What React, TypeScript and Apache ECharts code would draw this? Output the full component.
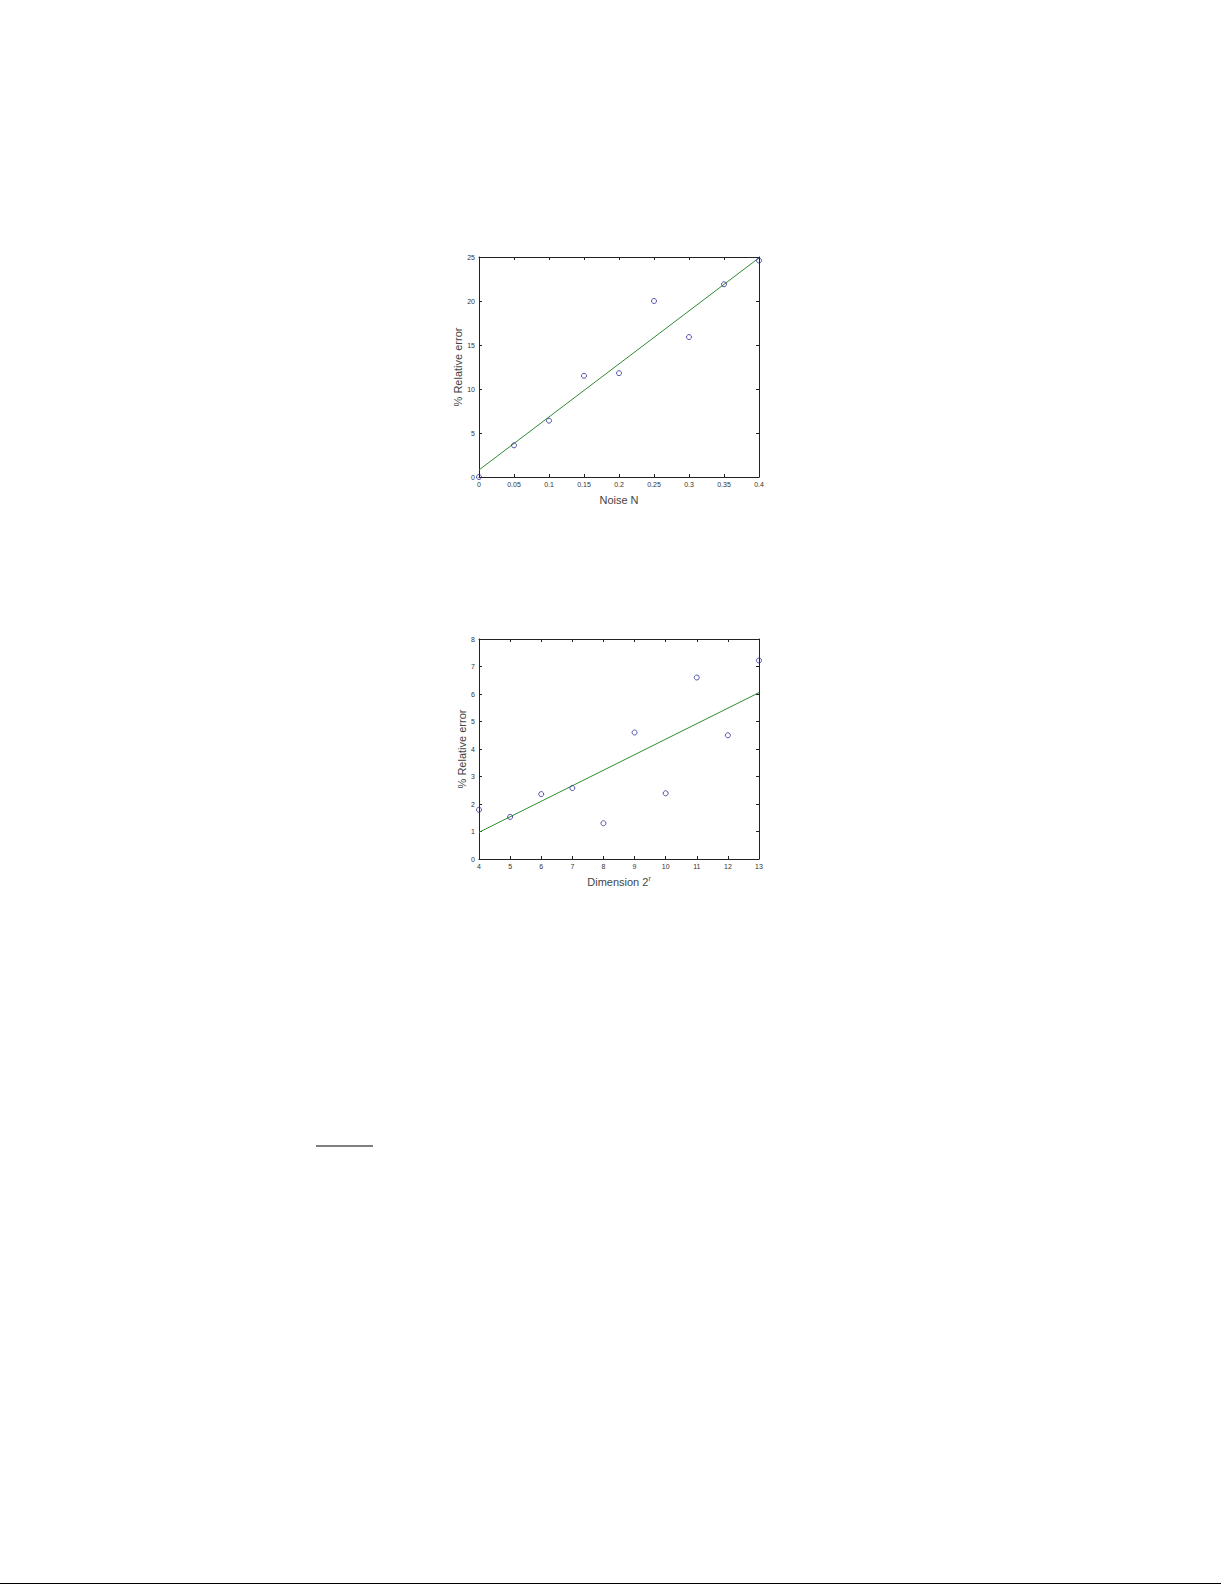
import React, { useEffect, useRef } from "react";
import * as echarts from "echarts";

// Chart 1: Noise N vs % Relative error
const noiseX = [0, 0.05, 0.1, 0.15, 0.2, 0.25, 0.3, 0.35, 0.4];
const noiseErr = [0, 3.6, 6.4, 11.5, 11.8, 20.0, 15.9, 21.9, 24.6];
const noiseFitX = [0, 0.4];
const noiseFitY = [0.8, 24.9];

// Chart 2: Dimension 2^r vs % Relative error
const dimX = [4, 5, 6, 7, 8, 9, 10, 11, 12, 13];
const dimErr = [1.79, 1.53, 2.36, 2.58, 1.3, 4.6, 2.39, 6.6, 4.5, 7.22];
const dimFitX = [4, 13];
const dimFitY = [0.97, 6.05];

const FONT = "Liberation Sans, Arial, sans-serif";
const AXIS_COLOR = "#222";
const MARKER_COLOR = "#2a2a9a";
const FIT_COLOR = "#2f8a2f";

function zip(a: number[], b: number[]) {
  return a.map((v, i) => [v, b[i]]);
}

function mainX(gridIndex: number, min: number, max: number, interval: number, name: any, nameGap: number) {
  return {
    type: "value",
    gridIndex,
    min,
    max,
    interval,
    position: "bottom",
    name,
    nameLocation: "middle",
    nameGap,
    nameTextStyle: { fontFamily: FONT, fontSize: 11, color: "#444", rich: { sup: { fontSize: 7, verticalAlign: "top", padding: [0, 0, 6, 0], fontFamily: FONT, color: "#444" } } },
    axisLine: { show: true, onZero: false, lineStyle: { color: AXIS_COLOR, width: 1 } },
    axisTick: { show: true, inside: true, length: 3, lineStyle: { color: AXIS_COLOR } },
    axisLabel: { fontFamily: FONT, fontSize: 7, color: "#333", margin: 4 },
    splitLine: { show: false },
  };
}

function frameX(gridIndex: number, min: number, max: number, interval: number) {
  return {
    type: "value",
    gridIndex,
    min,
    max,
    interval,
    position: "top",
    axisLine: { show: true, onZero: false, lineStyle: { color: AXIS_COLOR, width: 1 } },
    axisTick: { show: true, inside: true, length: 3, lineStyle: { color: AXIS_COLOR } },
    axisLabel: { show: false },
    splitLine: { show: false },
  };
}

function mainY(gridIndex: number, min: number, max: number, interval: number) {
  return {
    type: "value",
    gridIndex,
    min,
    max,
    interval,
    position: "left",
    name: "% Relative error",
    nameLocation: "middle",
    nameGap: 11,
    nameTextStyle: { fontFamily: FONT, fontSize: 11, color: "#444" },
    axisLine: { show: true, onZero: false, lineStyle: { color: AXIS_COLOR, width: 1 } },
    axisTick: { show: true, inside: true, length: 3, lineStyle: { color: AXIS_COLOR } },
    axisLabel: { fontFamily: FONT, fontSize: 7, color: "#333", margin: 4 },
    splitLine: { show: false },
  };
}

function frameY(gridIndex: number, min: number, max: number, interval: number) {
  return {
    type: "value",
    gridIndex,
    min,
    max,
    interval,
    position: "right",
    axisLine: { show: true, onZero: false, lineStyle: { color: AXIS_COLOR, width: 1 } },
    axisTick: { show: true, inside: true, length: 3, lineStyle: { color: AXIS_COLOR } },
    axisLabel: { show: false },
    splitLine: { show: false },
  };
}

function scatter(xi: number, yi: number, data: number[][]) {
  return {
    type: "scatter",
    xAxisIndex: xi,
    yAxisIndex: yi,
    data,
    symbol: "circle",
    symbolSize: 5,
    itemStyle: { color: "rgba(0,0,0,0)", borderColor: MARKER_COLOR, borderWidth: 1 },
    z: 3,
  };
}

function fit(xi: number, yi: number, data: number[][]) {
  return {
    type: "line",
    xAxisIndex: xi,
    yAxisIndex: yi,
    data,
    showSymbol: false,
    symbol: "none",
    lineStyle: { color: FIT_COLOR, width: 1 },
    z: 2,
  };
}

export default function App() {
  const ref = useRef<HTMLDivElement>(null);
  useEffect(() => {
    if (!ref.current) return;
    const chart = echarts.init(ref.current, undefined, { renderer: "svg" });
    chart.setOption({
      animation: false,
      backgroundColor: "#fff",
      grid: [
        { left: 479, top: 257, width: 280, height: 220 },
        { left: 479, top: 639, width: 280, height: 220 },
      ],
      xAxis: [
        mainX(0, 0, 0.4, 0.05, "Noise N", 17),
        frameX(0, 0, 0.4, 0.05),
        mainX(1, 4, 13, 1, "Dimension 2{sup|r}", 16),
        frameX(1, 4, 13, 1),
      ],
      yAxis: [
        mainY(0, 0, 25, 5),
        frameY(0, 0, 25, 5),
        mainY(1, 0, 8, 1),
        frameY(1, 0, 8, 1),
      ],
      series: [
        fit(0, 0, zip(noiseFitX, noiseFitY)),
        scatter(0, 0, zip(noiseX, noiseErr)),
        fit(2, 2, zip(dimFitX, dimFitY)),
        scatter(2, 2, zip(dimX, dimErr)),
      ],
      graphic: [
        { type: "line", shape: { x1: 316, y1: 1146, x2: 373, y2: 1146 }, style: { stroke: "#000", lineWidth: 1.2 } },
        { type: "line", shape: { x1: 0, y1: 1583.5, x2: 1221, y2: 1583.5 }, style: { stroke: "#000", lineWidth: 1.2 } },
      ],
    });
    return () => chart.dispose();
  }, []);
  return (
    <div
      ref={ref}
      style={{ position: "absolute", left: 0, top: 0, width: 1225, height: 1585, background: "#fff" }}
    />
  );
}
